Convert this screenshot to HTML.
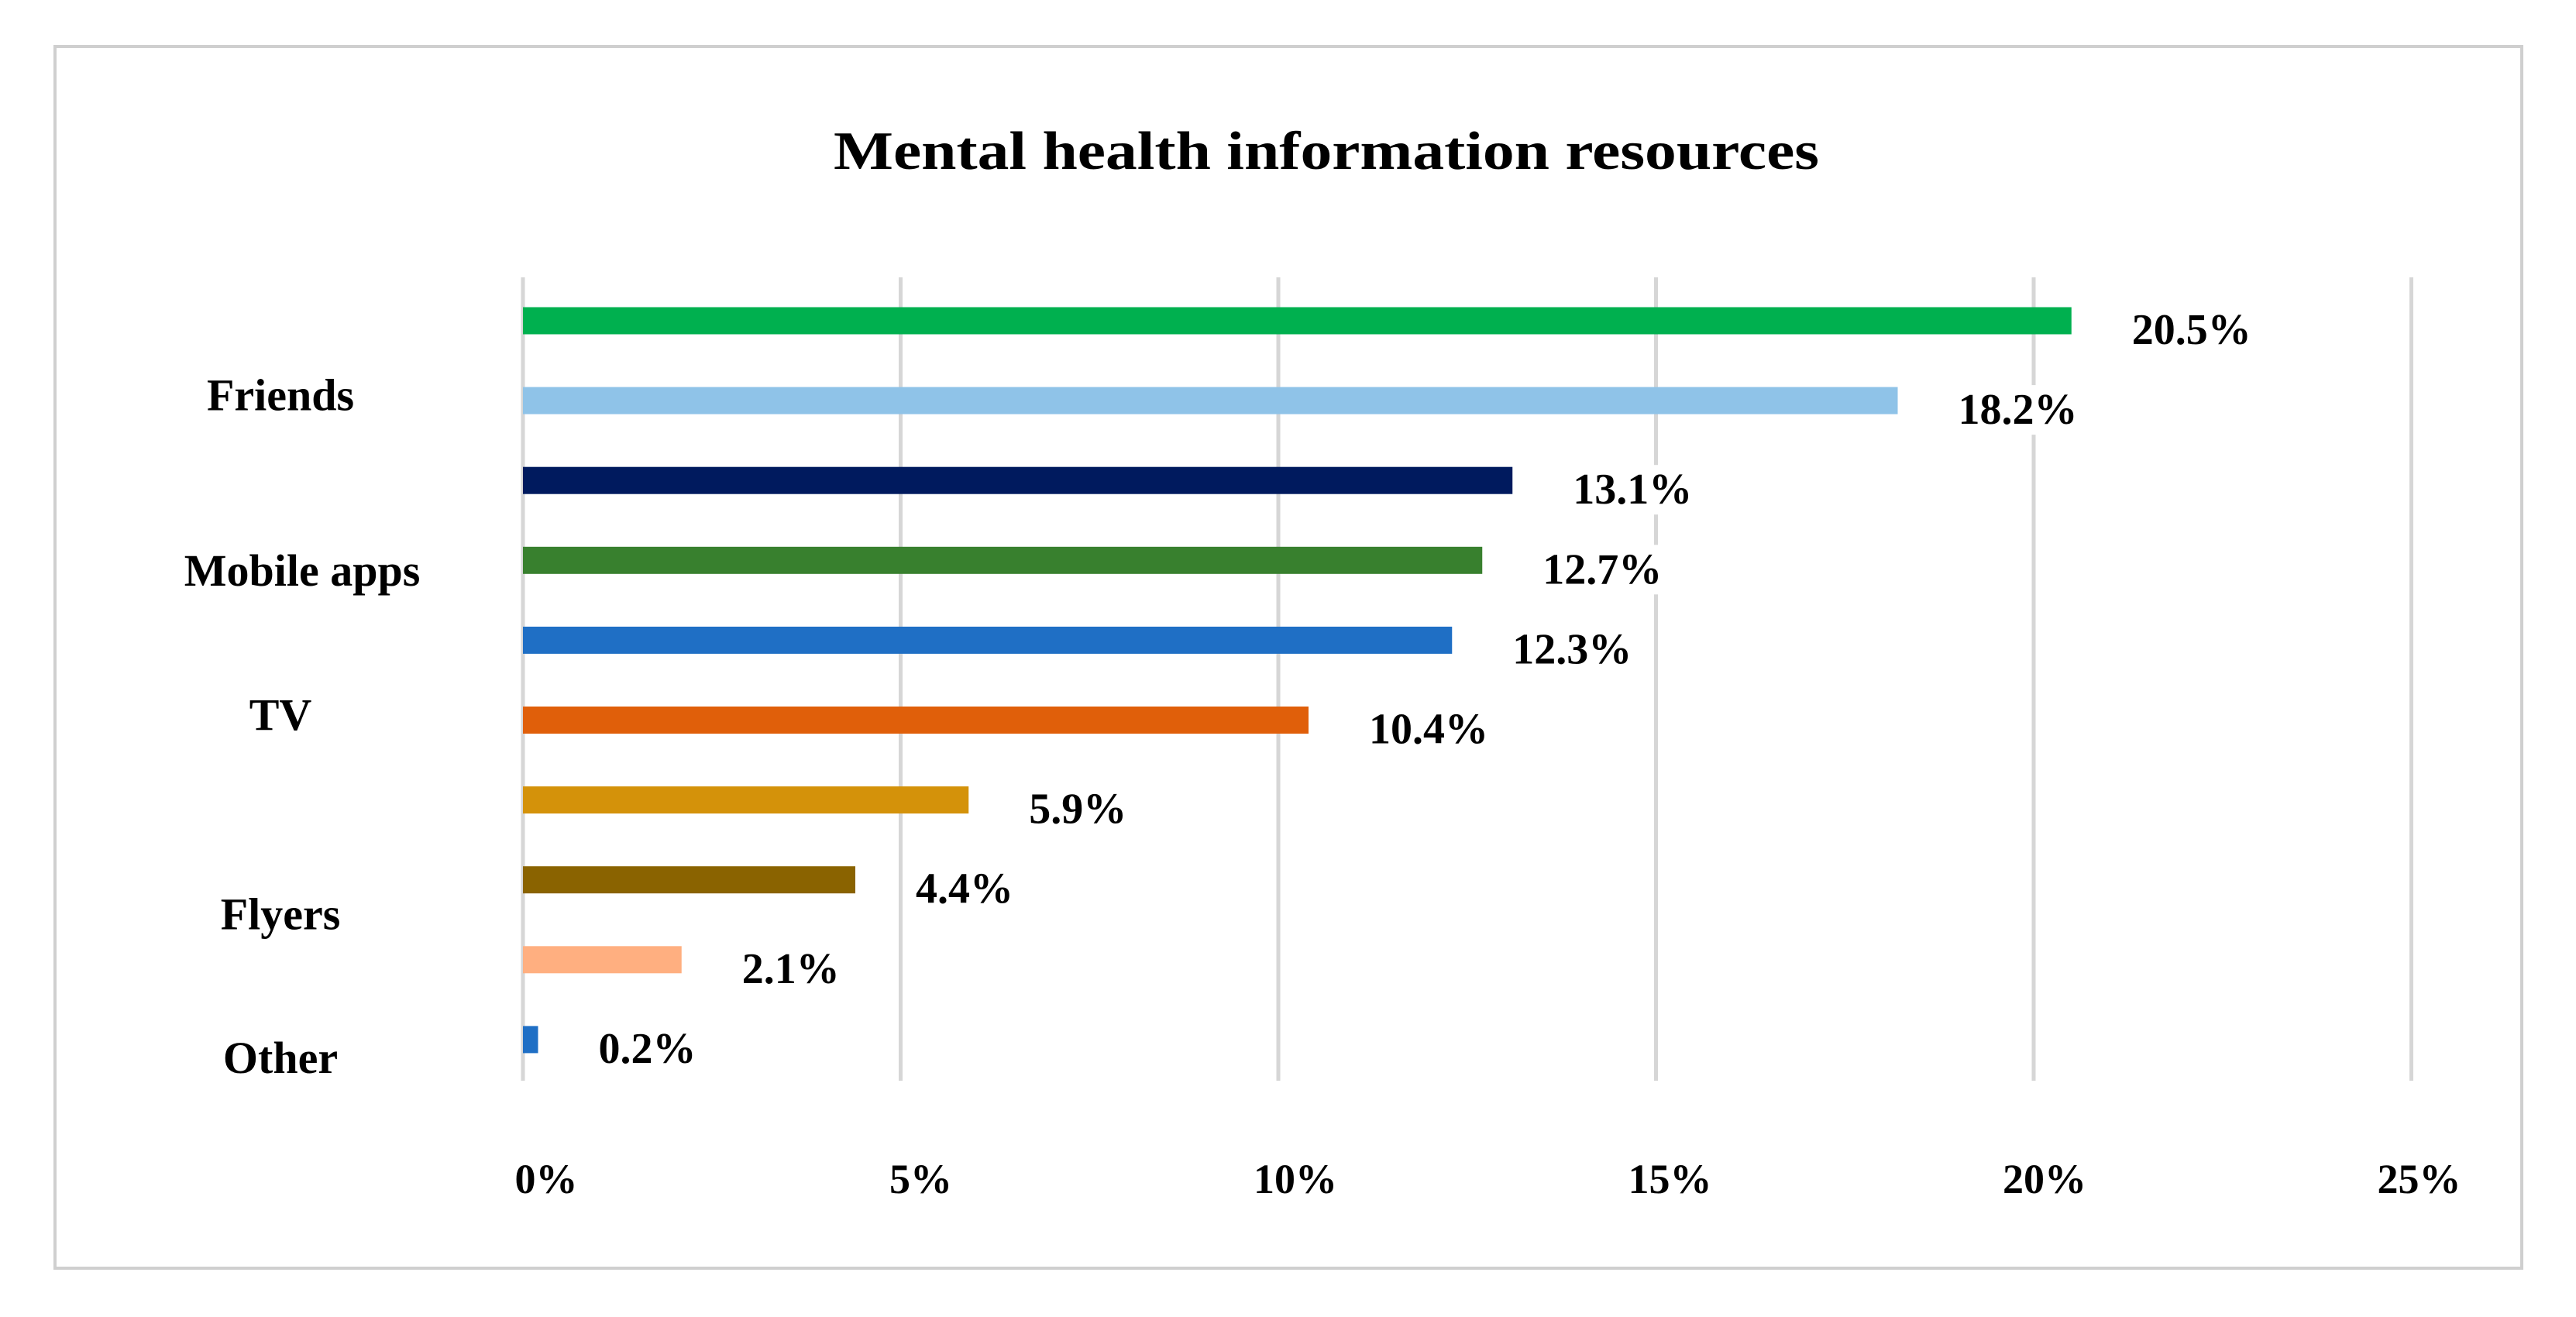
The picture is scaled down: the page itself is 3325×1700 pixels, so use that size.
<!DOCTYPE html>
<html><head><meta charset="utf-8"><style>
html,body{margin:0;padding:0;background:#fff;}
svg{display:block;}
text{font-family:"Liberation Serif",serif;font-weight:bold;fill:#000;}
</style></head><body>
<svg id="chart" width="3325" height="1700" viewBox="0 0 3325 1700" xmlns="http://www.w3.org/2000/svg">
<rect x="71" y="60" width="3184" height="1577" fill="#fff" stroke="#cfcfcf" stroke-width="4"/>
<text x="1712" y="218" font-size="70" text-anchor="middle" textLength="1272" lengthAdjust="spacingAndGlyphs">Mental health information resources</text>
<g id="grid"></g><g id="bars"></g><g id="labels"></g>
</svg>
<script>
const values = [20.5, 18.2, 13.1, 12.7, 12.3, 10.4, 5.9, 4.4, 2.1, 0.2];
const valueLabels = ["20.5%","18.2%","13.1%","12.7%","12.3%","10.4%","5.9%","4.4%","2.1%","0.2%"];
const colors = ["#00b04f","#8fc3e8","#001a5e","#38802e","#1f6fc5","#e05f0a","#d4920a","#8a6300","#ffaf80","#1f6fc5"];
const categories = ["Friends","Mobile apps","TV","Flyers","Other"];
const categoryRows = [1.1, 3.3, 5.1, 7.6, 9.4];
const ticks = [0,5,10,15,20,25];
const tickLabels = ["0%","5%","10%","15%","20%","25%"];

const NS="http://www.w3.org/2000/svg";
const x0=675, pxPer=97.5;
function xScale(v){return x0+v*pxPer;}
const yTop=414, step=103.1;
function yScale(i){return yTop+i*step;}
function mk(tag,attrs,parent){const e=document.createElementNS(NS,tag);for(const k in attrs)e.setAttribute(k,attrs[k]);parent.appendChild(e);return e;}
const grid=document.getElementById('grid'),bars=document.getElementById('bars'),labels=document.getElementById('labels');

ticks.forEach((t,i)=>{
  const l=mk('line',{x1:xScale(t),x2:xScale(t),y1:358,y2:1395,stroke:'#d6d6d6','stroke-width':5},grid);
  
  
  const tx=mk('text',{x:xScale(t)+30-i*4,y:1540,'font-size':54,'text-anchor':'middle'},labels);
  tx.textContent=tickLabels[i];
  
  
});
values.forEach((v,i)=>{
  const cy=yScale(i);
  const r=mk('rect',{x:x0,y:cy-17.5,width:Math.max(xScale(v)-x0,8),height:35,fill:colors[i]},bars);
  
  
  const lx=xScale(v)+78, ly=cy+30;
  const bg=mk('rect',{x:lx-15,y:ly-50,width:175,height:64,fill:'#fff'},labels);
  
  
  const t=mk('text',{x:lx,y:ly,'font-size':56},labels);
  t.textContent=valueLabels[i];
  
  
});
categories.forEach((c,i)=>{
  const t=mk('text',{x:c==="Mobile apps"?390:362,y:yScale(categoryRows[i])+2,'font-size':58,'text-anchor':'middle'},labels);
  t.textContent=c;
  
  
});
</script>
</body></html>
